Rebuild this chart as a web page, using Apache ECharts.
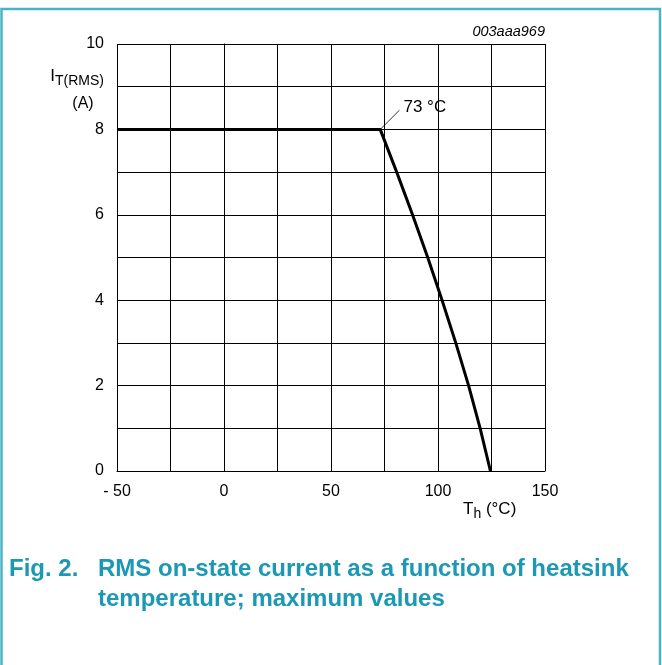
<!DOCTYPE html>
<html>
<head>
<meta charset="utf-8">
<script src="https://cdn.jsdelivr.net/npm/echarts@6/dist/echarts.min.js"></script>
<style>
  html, body { margin: 0; padding: 0; background: #fff; }
  #chart { width: 662px; height: 665px; }
</style>
</head>
<body>
<div id="chart"></div>
<script>
// heatsink temperature (°C) vs max RMS on-state current (A)
const tempC = [-50, 73, 80.7, 88.1, 95.2, 101.9, 108.3, 114.3, 119.7, 124.5];
const currentA = [8, 8, 7, 6, 5, 4, 3, 2, 1, 0];
const xTicks = [-50, 0, 50, 100, 150];
const yTicks = [0, 2, 4, 6, 8, 10];
const kneeNote = { text: '73 °C', from: [73, 8], to: [82, 8.45] };

const teal = '#1a98b4';
const font = 'Liberation Sans, Arial, sans-serif';

const chart = echarts.init(document.getElementById('chart'));
chart.setOption({
    animation: false,
    backgroundColor: '#fff',
    grid: { left: 117, right: 117, top: 44, bottom: 194 },
    xAxis: {
        type: 'value',
        min: -50, max: 150, interval: 25,
        axisLine: { lineStyle: { color: '#000', width: 1 } },
        axisTick: { show: false },
        splitLine: { lineStyle: { color: '#000', width: 1 } },
        axisLabel: {
            color: '#000', fontFamily: font, fontSize: 16, margin: 13,
            formatter: v => xTicks.includes(v) ? (v < 0 ? '- ' + Math.abs(v) : String(v)) : ''
        }
    },
    yAxis: {
        type: 'value',
        min: 0, max: 10, interval: 1,
        axisLine: { show: true, lineStyle: { color: '#000', width: 1 } },
        axisTick: { show: false },
        splitLine: { lineStyle: { color: '#000', width: 1 } },
        axisLabel: {
            color: '#000', fontFamily: font, fontSize: 16, margin: 13,
            formatter: v => yTicks.includes(v) ? String(v) : ''
        }
    },
    series: [{
        type: 'line',
        data: tempC.map((t, i) => [t, currentA[i]]),
        symbol: 'none',
        lineStyle: { color: '#000', width: 3, join: 'round' },
        markLine: {
            silent: true,
            symbol: 'none',
            lineStyle: { color: '#000', width: 0.8, type: 'solid' },
            label: {
                show: true, position: 'end', distance: 0,
                align: 'left', verticalAlign: 'middle', offset: [4, -3],
                formatter: kneeNote.text,
                color: '#000', fontFamily: font, fontSize: 17
            },
            data: [[{ coord: kneeNote.from }, { coord: kneeNote.to }]]
        }
    }],
    graphic: [
        {
            type: 'rect', silent: true,
            shape: { x: 1.5, y: 9, width: 658.5, height: 700 },
            style: { fill: 'none', stroke: '#4cb2c8', lineWidth: 2.5 }
        },
        {
            type: 'text', x: 545, y: 24,
            style: { text: '003aaa969', font: 'italic 14.5px ' + font, fill: '#000', align: 'right' }
        },
        {
            type: 'text', x: 104, y: 65,
            style: {
                text: '{a|I}{b|T(RMS)}', align: 'right',
                rich: {
                    a: { fontFamily: font, fontSize: 17, fill: '#000' },
                    b: { fontFamily: font, fontSize: 14, fill: '#000', padding: [9, 0, 0, 0] }
                }
            }
        },
        {
            type: 'text', x: 83, y: 96,
            style: { text: '(A)', font: '16px ' + font, fill: '#000', align: 'center' }
        },
        {
            type: 'text', x: 463, y: 498,
            style: {
                text: '{a|T}{b|h}{a| (°C)}',
                rich: {
                    a: { fontFamily: font, fontSize: 17, fill: '#000' },
                    b: { fontFamily: font, fontSize: 14, fill: '#000', padding: [9, 0, 0, 0] }
                }
            }
        },
        {
            type: 'text', x: 9, y: 554,
            style: { text: 'Fig. 2.', font: 'bold 24px ' + font, fill: teal, lineHeight: 30 }
        },
        {
            type: 'text', x: 98, y: 554,
            style: {
                text: 'RMS on-state current as a function of heatsink\ntemperature; maximum values',
                font: 'bold 24px ' + font, fill: teal, lineHeight: 30
            }
        }
    ]
});
</script>
</body>
</html>
